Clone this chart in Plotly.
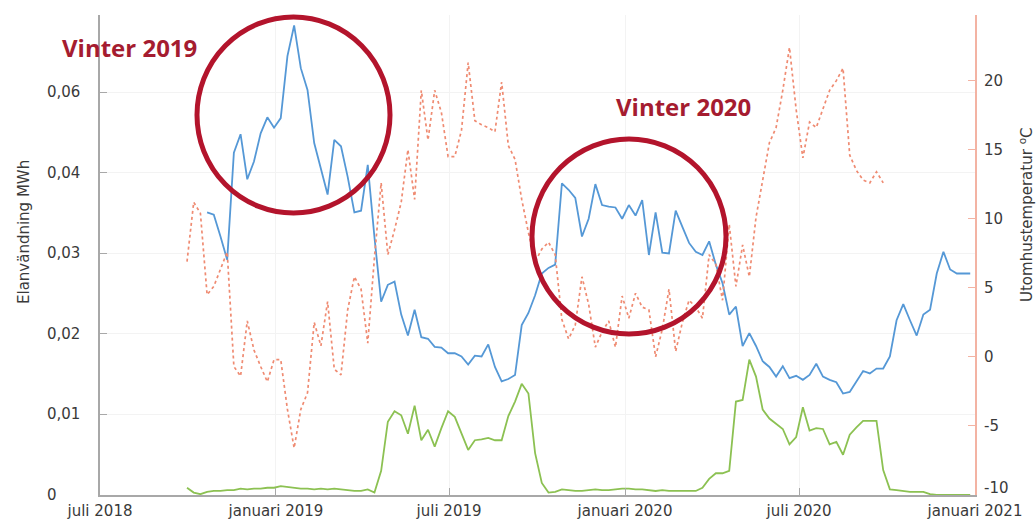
import pandas as pd
import plotly.graph_objects as go

# ---------------- data ----------------
el_start = "2018-10-21"
el_total = [0.0351, 0.0348, 0.0321, 0.0292, 0.0425, 0.0448, 0.0392, 0.0414, 0.0449, 0.0469,
            0.0456, 0.0468, 0.0545, 0.0583, 0.0530, 0.0503, 0.0437, 0.0405, 0.0373, 0.0441,
            0.0433, 0.0395, 0.0351, 0.0353, 0.0410, 0.0320, 0.0240, 0.0261, 0.0265, 0.0224,
            0.0198, 0.0230, 0.0196, 0.0194, 0.0184, 0.0183, 0.0176, 0.0176, 0.0172, 0.0162,
            0.0173, 0.0172, 0.0187, 0.0159, 0.0141, 0.0144, 0.0149, 0.0211, 0.0226, 0.0248,
            0.0275, 0.0282, 0.0286, 0.0387, 0.0379, 0.0369, 0.0321, 0.0343, 0.0386, 0.0360,
            0.0358, 0.0357, 0.0343, 0.0360, 0.0347, 0.0366, 0.0298, 0.0351, 0.0301, 0.0300,
            0.0353, 0.0333, 0.0313, 0.0302, 0.0298, 0.0315, 0.0286, 0.0263, 0.0224, 0.0234,
            0.0185, 0.0201, 0.0185, 0.0166, 0.0159, 0.0147, 0.0160, 0.0145, 0.0148, 0.0143,
            0.0149, 0.0163, 0.0147, 0.0143, 0.0140, 0.0126, 0.0128, 0.0141, 0.0154, 0.0151,
            0.0157, 0.0157, 0.0172, 0.0217, 0.0237, 0.0217, 0.0198, 0.0224, 0.0230, 0.0275,
            0.0302, 0.0280, 0.0275, 0.0275, 0.0275]

el2_start = "2018-09-30"
el_other = [0.0009, 0.0003, 0.0001, 0.0004, 0.0005, 0.0005, 0.0006, 0.0006, 0.0008, 0.0007,
            0.0008, 0.0008, 0.0009, 0.0009, 0.0011, 0.0010, 0.0009, 0.0008, 0.0008, 0.0007,
            0.0008, 0.0007, 0.0008, 0.0007, 0.0006, 0.0005, 0.0005, 0.0007, 0.0003, 0.0030,
            0.0091, 0.0104, 0.0099, 0.0076, 0.0111, 0.0068, 0.0081, 0.0060, 0.0083, 0.0104,
            0.0097, 0.0077, 0.0056, 0.0068, 0.0069, 0.0071, 0.0068, 0.0068, 0.0098, 0.0116,
            0.0138, 0.0126, 0.0052, 0.0015, 0.0003, 0.0004, 0.0007, 0.0006, 0.0005, 0.0005,
            0.0006, 0.0007, 0.0006, 0.0006, 0.0007, 0.0008, 0.0008, 0.0007, 0.0007, 0.0006,
            0.0005, 0.0006, 0.0005, 0.0005, 0.0005, 0.0005, 0.0005, 0.0009, 0.0020, 0.0027,
            0.0027, 0.0030, 0.0116, 0.0118, 0.0168, 0.0147, 0.0106, 0.0095, 0.0089, 0.0082,
            0.0063, 0.0072, 0.0109, 0.0080, 0.0083, 0.0082, 0.0063, 0.0066, 0.0050, 0.0075,
            0.0084, 0.0092, 0.0092, 0.0092, 0.0031, 0.0007, 0.0006, 0.0005, 0.0004, 0.0004,
            0.0004, 0.0001, 0.0, 0.0, 0.0, 0.0, 0.0, 0.0]

temp_start = "2018-09-30"
temperature = [6.9, 11.2, 10.4, 4.5, 5.1, 6.3, 7.6, -0.7, -1.4, 2.6,
               0.5, -0.7, -1.8, -0.2, -0.2, -3.8, -6.6, -3.8, -2.6, 2.5,
               0.8, 4.0, -0.9, -1.3, 3.4, 5.8, 4.9, 1.0, 7.2, 12.6,
               7.4, 9.2, 11.2, 15.0, 11.4, 19.3, 15.7, 19.3, 17.7, 14.5,
               14.5, 16.4, 21.3, 17.1, 16.8, 16.6, 16.3, 19.9, 15.3, 14.3,
               11.4, 9.0, 6.9, 7.8, 8.3, 7.4, 2.7, 1.3, 2.3, 5.8,
               3.8, 0.7, 1.8, 2.6, 0.7, 4.4, 2.8, 4.6, 3.6, 3.4,
               0.0, 2.0, 4.9, 0.4, 2.5, 4.1, 3.6, 2.8, 7.4, 6.7,
               4.1, 9.6, 5.1, 8.1, 5.8, 10.1, 12.8, 15.5, 16.6, 19.3,
               22.4, 17.9, 14.4, 17.0, 16.6, 18.0, 19.3, 20.0, 20.9, 14.6,
               13.5, 12.8, 12.6, 13.4, 12.6]

x_tick_dates = ["2018-07-01", "2019-01-01", "2019-07-01", "2020-01-01", "2020-07-01", "2021-01-01"]
x_tick_labels = ["juli 2018", "januari 2019", "juli 2019", "januari 2020", "juli 2020", "januari 2021"]
y_tick_vals = [0, 0.01, 0.02, 0.03, 0.04, 0.05]
y_tick_labels = ["0", "0,01", "0,02", "0,03", "0,04", "0,06"]
y2_tick_vals = [-10, -5, 0, 5, 10, 15, 20]
y2_tick_labels = ["-10", "-5", "0", "5", "10", "15", "20"]

# ---------------- figure ----------------
FONT = "DejaVu Sans"
TXT = "#3a3a3a"
W, H = 1036, 520
ML, MR, MT, MB = 100, 61, 15, 25
PW, PH = W - ML - MR, H - MT - MB


def px_x(px):
    return (px - ML) / PW


def px_y(py):
    return 1 - (py - MT) / PH


d_total = pd.date_range(el_start, periods=len(el_total), freq="7D")
d_other = pd.date_range(el2_start, periods=len(el_other), freq="7D")
d_temp = pd.date_range(temp_start, periods=len(temperature), freq="7D")

fig = go.Figure()
fig.add_trace(go.Scatter(x=d_temp, y=temperature, yaxis="y2", mode="lines",
                         line=dict(color="#ef8b72", width=1.7, dash="dot"),
                         name="Utomhustemperatur", showlegend=False))
fig.add_trace(go.Scatter(x=d_other, y=el_other, mode="lines",
                         line=dict(color="#8cc152", width=1.8),
                         name="Elanvändning 2", showlegend=False))
fig.add_trace(go.Scatter(x=d_total, y=el_total, mode="lines",
                         line=dict(color="#5598d6", width=1.8),
                         name="Elanvändning", showlegend=False))

fig.update_layout(
    width=W, height=H, autosize=False,
    margin=dict(l=ML, r=MR, t=MT, b=MB, autoexpand=False),
    paper_bgcolor="white", plot_bgcolor="white",
    font=dict(family=FONT, size=15, color=TXT),
    xaxis=dict(type="date", range=["2018-07-01", "2021-01-01"],
               tickvals=x_tick_dates, ticktext=x_tick_labels,
               showline=True, linecolor="#a8a8a8", linewidth=2,
               ticks="inside", ticklen=7, tickcolor="#a8a8a8",
               showgrid=True, gridcolor="#f3f3f3", zeroline=False,
               automargin=False, ticklabelstandoff=1,
               tickfont=dict(size=15, color=TXT)),
    yaxis=dict(range=[0, 0.0596], tickvals=y_tick_vals, ticktext=y_tick_labels,
               showline=True, linecolor="#a8a8a8", linewidth=2,
               ticks="inside", ticklen=7, tickcolor="#a8a8a8",
               showgrid=True, gridcolor="#f3f3f3", zeroline=False,
               showticklabels=False, automargin=False),
    yaxis2=dict(range=[-10, 24.75], overlaying="y", side="right",
                tickvals=y2_tick_vals, ticktext=y2_tick_labels,
                showline=True, linecolor="#f3b3a3", linewidth=1.5,
                ticks="inside", ticklen=7, tickcolor="#f3b3a3",
                showgrid=False, zeroline=False, showticklabels=False,
                automargin=False),
    showlegend=False,
)

# left tick labels, left-aligned as in the reference
for v, t in zip(y_tick_vals, y_tick_labels):
    fig.add_annotation(text=t, xref="paper", yref="y", x=px_x(45), y=v,
                       showarrow=False, xanchor="left", yanchor="middle",
                       font=dict(family=FONT, size=15, color=TXT))

# right tick labels (the lowest one sits slightly raised, as in the reference)
for v, t in zip(y2_tick_vals, y2_tick_labels):
    fig.add_annotation(text=t, xref="paper", yref="y2", x=px_x(982), y=v,
                       showarrow=False, xanchor="left", yanchor="middle",
                       yshift=7 if v == y2_tick_vals[0] else 0,
                       font=dict(family=FONT, size=15, color=TXT))

CIRC = "#b3142c"
fig.add_shape(type="circle", xref="paper", yref="paper",
              x0=px_x(197), x1=px_x(390), y0=px_y(213), y1=px_y(17),
              line=dict(color=CIRC, width=5))
fig.add_shape(type="circle", xref="paper", yref="paper",
              x0=px_x(532), x1=px_x(726), y0=px_y(334), y1=px_y(139),
              line=dict(color=CIRC, width=5))

fig.add_annotation(text="Vinter 2019", xref="paper", yref="paper", x=px_x(129), y=px_y(48),
                   showarrow=False, xanchor="center", yanchor="middle",
                   font=dict(family="Open Sans", size=24, color="#a51c30", weight="bold"))
fig.add_annotation(text="Vinter 2020", xref="paper", yref="paper", x=px_x(683), y=px_y(106),
                   showarrow=False, xanchor="center", yanchor="middle",
                   font=dict(family="Open Sans", size=24, color="#a51c30", weight="bold"))

fig.add_annotation(text="Elanvändning MWh", xref="paper", yref="paper", x=px_x(24), y=px_y(232),
                   showarrow=False, textangle=-90, xanchor="center", yanchor="middle",
                   font=dict(family=FONT, size=15, color=TXT))
fig.add_annotation(text="Utomhustemperatur <sup>o</sup>C", xref="paper", yref="paper",
                   x=px_x(1026), y=px_y(215), showarrow=False, textangle=-90,
                   xanchor="center", yanchor="middle",
                   font=dict(family=FONT, size=15, color=TXT))

fig.write_html("out.html",
               config={"displayModeBar": False},
               post_script="document.body.style.margin='0px';"
                           "document.body.style.overflow='hidden';")
